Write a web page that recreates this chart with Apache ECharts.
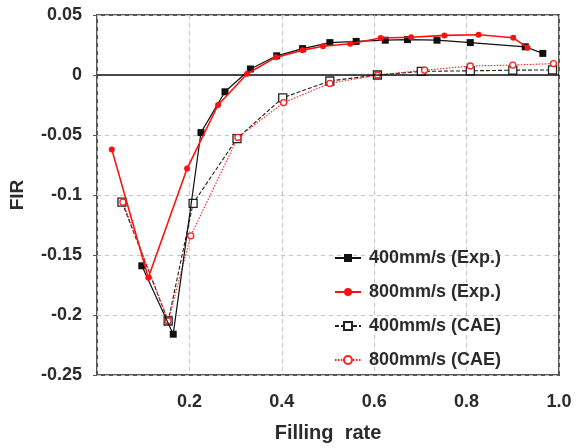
<!DOCTYPE html>
<html>
<head>
<meta charset="utf-8">
<script src="https://cdn.jsdelivr.net/npm/echarts@6/dist/echarts.min.js"></script>
<style>
  html, body { margin: 0; padding: 0; background: #fff; }
  #chart { width: 576px; height: 448px; }
</style>
</head>
<body>
<div id="chart"></div>
<script>
// Filling rate (x) and FIR (y) for each test condition
const exp400X = [0.097, 0.165, 0.225, 0.277, 0.332, 0.389, 0.445, 0.504, 0.561, 0.624, 0.672, 0.736, 0.808, 0.927, 0.965];
const exp400Y = [-0.159, -0.216, -0.048, -0.014, 0.005, 0.016, 0.022, 0.027, 0.028, 0.029, 0.0295, 0.029, 0.027, 0.0235, 0.018];

const exp800X = [0.032, 0.111, 0.195, 0.262, 0.325, 0.387, 0.445, 0.489, 0.548, 0.614, 0.680, 0.752, 0.826, 0.901, 0.932];
const exp800Y = [-0.062, -0.169, -0.078, -0.025, 0.001, 0.0147, 0.0207, 0.024, 0.026, 0.0308, 0.0314, 0.033, 0.0336, 0.031, 0.0228];

const cae400X = [0.054, 0.154, 0.208, 0.303, 0.402, 0.504, 0.607, 0.702, 0.808, 0.900, 0.986];
const cae400Y = [-0.106, -0.205, -0.107, -0.053, -0.019, -0.005, 0.0, 0.003, 0.0035, 0.004, 0.0042];

const cae800X = [0.056, 0.154, 0.203, 0.305, 0.404, 0.504, 0.607, 0.709, 0.808, 0.900, 0.988];
const cae800Y = [-0.106, -0.205, -0.134, -0.052, -0.023, -0.007, 0.0, 0.004, 0.0075, 0.0083, 0.0095];

const seriesNames = ['400mm/s (Exp.)', '800mm/s (Exp.)', '400mm/s (CAE)', '800mm/s (CAE)'];

const pairs = (xs, ys) => xs.map((x, i) => [x, ys[i]]);

const FONT = '"Liberation Sans", Arial, sans-serif';
const TEXT = '#2b2b2b';

const chart = echarts.init(document.getElementById('chart'), null, { renderer: 'canvas' });

chart.setOption({
  animation: false,
  backgroundColor: '#fff',
  grid: {
    left: 95, right: 17, top: 15, bottom: 68,
    show: true, borderColor: '#555', borderWidth: 2
  },
  xAxis: {
    type: 'value', min: 0, max: 1, interval: 0.2,
    name: 'Filling  rate', nameLocation: 'middle', nameGap: 48,
    nameTextStyle: { fontFamily: FONT, fontWeight: 'bold', fontSize: 20, color: TEXT },
    axisLine: { show: false },
    axisTick: { show: false },
    axisLabel: {
      showMinLabel: false, margin: 18,
      fontFamily: FONT, fontWeight: 'bold', fontSize: 18, color: TEXT,
      formatter: v => v.toFixed(1)
    },
    splitLine: { show: true, lineStyle: { color: '#c4c4c4', type: [4, 4], width: 1 } }
  },
  yAxis: {
    type: 'value', min: -0.25, max: 0.05, interval: 0.05,
    name: 'FIR', nameLocation: 'middle', nameGap: 70, nameRotate: 90,
    nameTextStyle: { fontFamily: FONT, fontWeight: 'bold', fontSize: 19, color: TEXT },
    axisLine: { show: false },
    axisTick: { show: true, inside: false, length: 4, lineStyle: { color: '#555' } },
    axisLabel: {
      margin: 15,
      fontFamily: FONT, fontWeight: 'bold', fontSize: 18, color: TEXT,
      formatter: v => String(parseFloat(v.toFixed(2)))
    },
    splitLine: { show: true, lineStyle: { color: '#c4c4c4', type: [4, 4], width: 1 } }
  },
  legend: {
    orient: 'vertical', left: 329, top: 244,
    itemWidth: 26, itemHeight: 10, itemGap: 16,
    data: seriesNames,
    textStyle: {
      fontFamily: FONT, fontWeight: 'bold', fontSize: 18, color: TEXT,
      lineHeight: 16, padding: [0, 0, 0, 3]
    }
  },
  series: [
    {
      name: seriesNames[0], type: 'line', data: pairs(exp400X, exp400Y),
      symbol: 'rect', symbolSize: 7,
      lineStyle: { color: '#111', width: 1.2 },
      itemStyle: { color: '#111' },
      z: 4,
      markLine: {
        silent: true, symbol: 'none', label: { show: false },
        lineStyle: { color: '#111', type: 'solid', width: 1.6 },
        data: [{ yAxis: 0 }]
      }
    },
    {
      name: seriesNames[1], type: 'line', data: pairs(exp800X, exp800Y),
      symbol: 'circle', symbolSize: 6,
      lineStyle: { color: '#ff1010', width: 1.6 },
      itemStyle: { color: '#ff1010' },
      z: 5
    },
    {
      name: seriesNames[2], type: 'line', data: pairs(cae400X, cae400Y),
      symbol: 'rect', symbolSize: 8,
      lineStyle: { color: '#222', width: 1.1, type: [4, 2] },
      itemStyle: { color: '#fff', borderColor: '#222', borderWidth: 1.3 },
      z: 3
    },
    {
      name: seriesNames[3], type: 'line', data: pairs(cae800X, cae800Y),
      symbol: 'circle', symbolSize: 6,
      lineStyle: { color: '#ff2020', width: 1.1, type: [1.5, 1.5] },
      itemStyle: { color: '#fff', borderColor: '#ff2020', borderWidth: 1.3 },
      z: 3
    }
  ]
});
</script>
</body>
</html>
